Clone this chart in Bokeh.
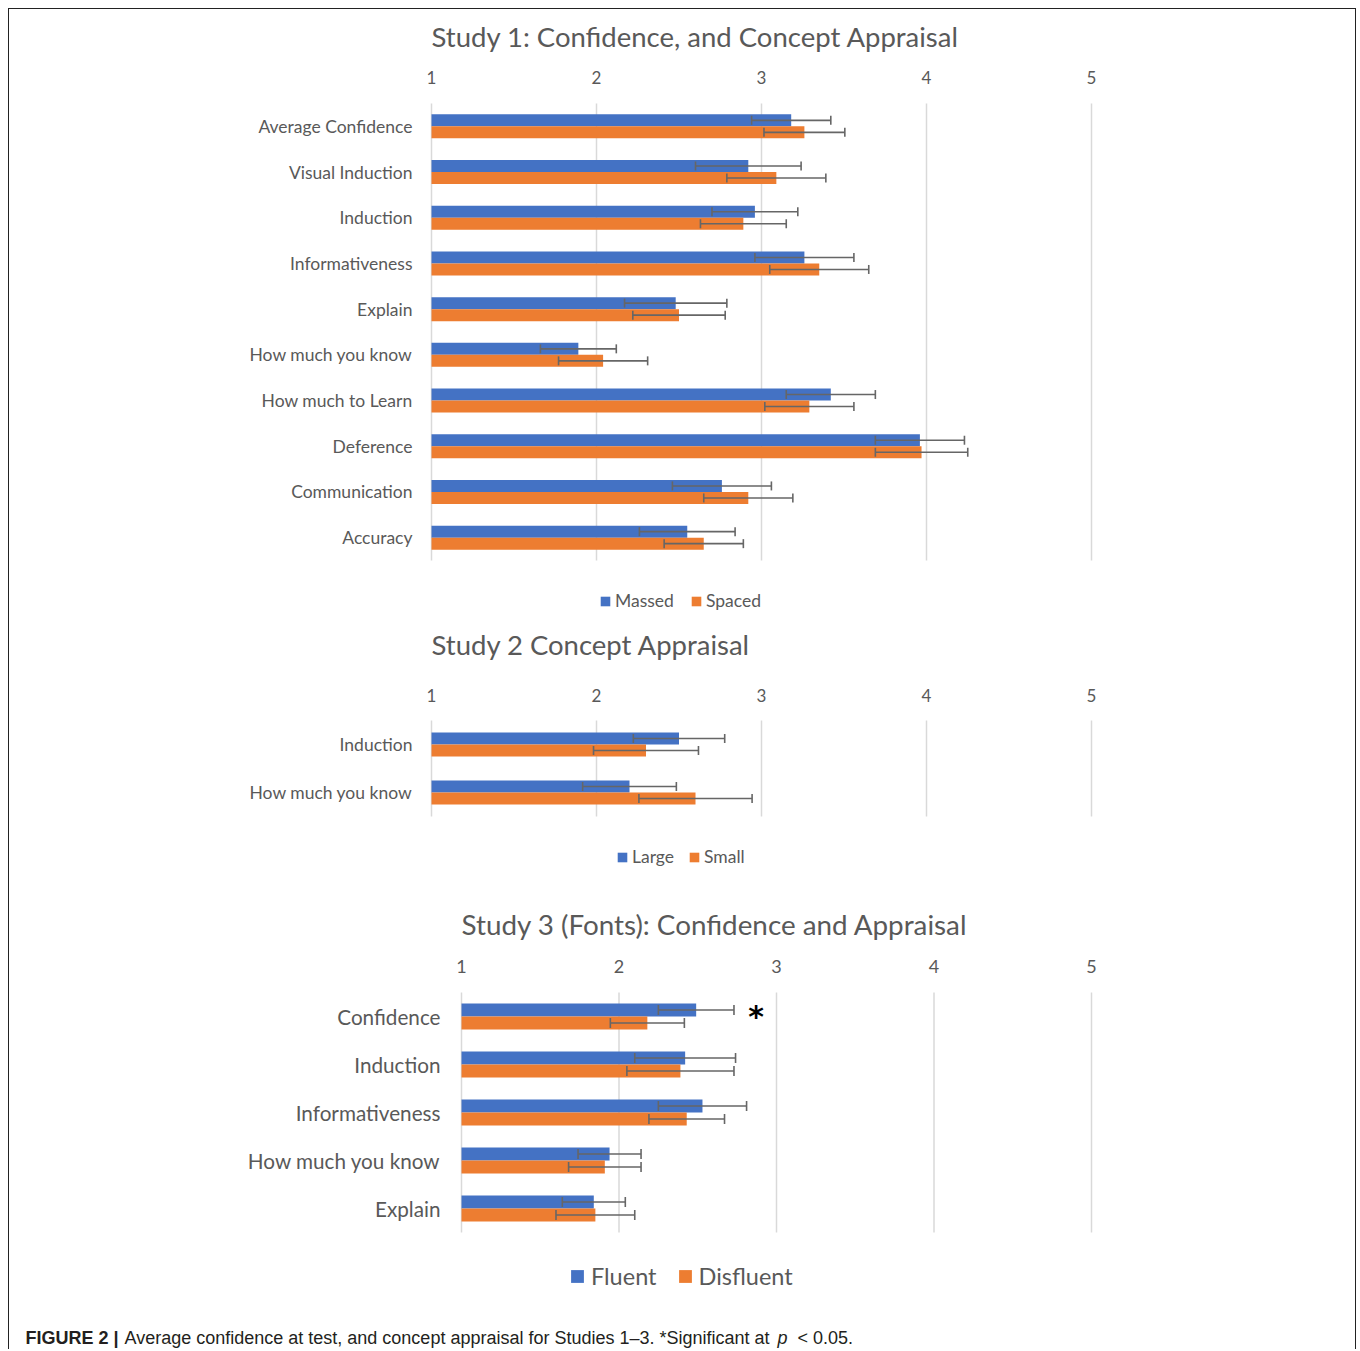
from bokeh.plotting import figure
from bokeh.models import (ColumnDataSource, Whisker, TeeHead, Label, Legend, LegendItem,
                          Range1d)
from bokeh.transform import dodge
from bokeh.layouts import column
from bokeh.core.properties import value
from bokeh.embed import file_html
from bokeh.resources import INLINE

# ---------------- data ----------------
s1_cats = ["Average Confidence", "Visual Induction", "Induction", "Informativeness", "Explain",
           "How much you know", "How much to Learn", "Deference", "Communication", "Accuracy"]
s1_massed = [3.18, 2.92, 2.96, 3.26, 2.48, 1.89, 3.42, 3.96, 2.76, 2.55]
s1_massed_err = [0.24, 0.32, 0.26, 0.30, 0.31, 0.23, 0.27, 0.27, 0.30, 0.29]
s1_spaced = [3.26, 3.09, 2.89, 3.35, 2.50, 2.04, 3.29, 3.97, 2.92, 2.65]
s1_spaced_err = [0.245, 0.30, 0.26, 0.30, 0.28, 0.27, 0.27, 0.28, 0.27, 0.24]

s2_cats = ["Induction", "How much you know"]
s2_large = [2.50, 2.20]
s2_large_err = [0.277, 0.284]
s2_small = [2.30, 2.60]
s2_small_err = [0.318, 0.343]

s3_cats = ["Confidence", "Induction", "Informativeness", "How much you know", "Explain"]
s3_fluent = [2.49, 2.42, 2.53, 1.94, 1.84]
s3_fluent_err = [0.24, 0.32, 0.28, 0.20, 0.20]
s3_disfluent = [2.18, 2.39, 2.43, 1.91, 1.85]
s3_disfluent_err = [0.235, 0.34, 0.24, 0.23, 0.25]

x_ticks = [1, 2, 3, 4, 5]

BLUE = "#4472C4"
ORANGE = "#ED7D31"
TXT = "#595959"
ERR = "#666666"
GRID = "#D9D9D9"
FONT = "Lato"
W, H = 1346, 1340          # canvas; page = local + 9


def x_range_for(origin_px, px_per_unit):
    start = x_ticks[0] - origin_px / px_per_unit
    return Range1d(start, start + W / px_per_unit)


def y_range_for(band_top, row_h):
    # row index i is centred at band_top + (i + 0.5) * row_h pixels from the top
    return Range1d((H - band_top) / row_h - 0.5, -band_top / row_h - 0.5)


p = figure(width=W, height=H, x_range=x_range_for(422, 165), y_range=y_range_for(94, 45.7),
           x_axis_location=None, y_axis_location=None, toolbar_location=None,
           output_backend="svg", min_border_left=0, min_border_right=0,
           min_border_top=0, min_border_bottom=0)
p.extra_x_ranges = {"x3": x_range_for(452, 157.5)}
p.extra_y_ranges = {"y2": y_range_for(711, 48), "y3": y_range_for(983, 48)}
p.outline_line_color = None
p.grid.visible = False
p.background_fill_color = None
p.border_fill_color = None


def study(cats, a, a_err, b, b_err, names, xr, yr, title, title_dy, tfs, cfs, afs, lfs,
          bar_h, head, tick_dy, cat_standoff, legend_loc, lglyph, lstandoff, lspacing):
    n = len(cats)
    kw = {}
    if xr != "default":
        kw["x_range_name"] = xr
    if yr != "default":
        kw["y_range_name"] = yr
    src = ColumnDataSource(dict(cat=cats, idx=list(range(n)), a=a, b=b,
                                a_lo=[v - e for v, e in zip(a, a_err)],
                                a_hi=[v + e for v, e in zip(a, a_err)],
                                b_lo=[v - e for v, e in zip(b, b_err)],
                                b_hi=[v + e for v, e in zip(b, b_err)],
                                origin=[x_ticks[0]] * n))
    # vertical gridlines at the value ticks
    gsrc = ColumnDataSource(dict(x=x_ticks, y0=[-0.5] * len(x_ticks), y1=[n - 0.5] * len(x_ticks),
                                 lab=[str(t) for t in x_ticks]))
    p.segment(x0="x", x1="x", y0="y0", y1="y1", source=gsrc, line_color=GRID,
              line_width=1.5, **kw)
    # value-axis tick labels along the top of each chart
    p.text(x="x", y="y0", text="lab", source=gsrc, y_offset=-tick_dy, text_align="center",
           text_baseline="middle", text_font=value(FONT), text_font_size=f"{afs}px",
           text_color=TXT, **kw)

    ra = p.hbar(y=dodge("idx", -bar_h / 2), left=x_ticks[0], right="a", height=bar_h,
                source=src, fill_color=BLUE, line_color=None, **kw)
    rb = p.hbar(y=dodge("idx", bar_h / 2), left=x_ticks[0], right="b", height=bar_h,
                source=src, fill_color=ORANGE, line_color=None, **kw)
    for key, off in (("a", -bar_h / 2), ("b", bar_h / 2)):
        w = Whisker(source=src, base=dodge("idx", off), lower=key + "_lo", upper=key + "_hi",
                    dimension="width", line_color=ERR, line_width=1.6, level="overlay",
                    upper_head=TeeHead(size=head, line_color=ERR, line_width=1.6),
                    lower_head=TeeHead(size=head, line_color=ERR, line_width=1.6), **kw)
        p.add_layout(w)

    # category labels
    p.text(x="origin", y="idx", text="cat", source=src, x_offset=-cat_standoff,
           text_align="right", text_baseline="middle", text_font=value(FONT),
           text_font_size=f"{cfs}px", text_color=TXT, **kw)
    # chart title, left-aligned with the value-axis origin
    p.text(x=[x_ticks[0]], y=[-0.5], text=[title], y_offset=-title_dy, text_align="left",
           text_baseline="middle", text_font=value(FONT), text_font_size=f"{tfs}px",
           text_color=TXT, **kw)

    leg = Legend(items=[LegendItem(label=names[0], renderers=[ra]),
                        LegendItem(label=names[1], renderers=[rb])],
                 orientation="horizontal", location=legend_loc,
                 glyph_width=lglyph, glyph_height=lglyph, label_standoff=lstandoff,
                 spacing=lspacing, padding=0, margin=0,
                 border_line_color=None, background_fill_alpha=0,
                 label_text_font=FONT, label_text_font_size=f"{lfs}px",
                 label_text_color=TXT, label_height=lglyph, label_text_baseline="middle")
    p.add_layout(leg, "center")
    return src


study(s1_cats, s1_massed, s1_massed_err, s1_spaced, s1_spaced_err, ["Massed", "Spaced"],
      "default", "default", "Study 1: Confidence, and Concept Appraisal", 67,
      tfs=27.5, cfs=17.5, afs=17, lfs=17.5, bar_h=0.263, head=9, tick_dy=26,
      cat_standoff=19, legend_loc=(590, 748 - 10), lglyph=12, lstandoff=4, lspacing=16)

study(s2_cats, s2_large, s2_large_err, s2_small, s2_small_err, ["Large", "Small"],
      "default", "y2", "Study 2 Concept Appraisal", 76,
      tfs=27.5, cfs=17.5, afs=17, lfs=17.5, bar_h=0.25, head=9, tick_dy=25,
      cat_standoff=19, legend_loc=(607, 492 - 10), lglyph=12, lstandoff=4, lspacing=14)

study(s3_cats, s3_fluent, s3_fluent_err, s3_disfluent, s3_disfluent_err,
      ["Fluent", "Disfluent"], "x3", "y3", "Study 3 (Fonts): Confidence and Appraisal", 68,
      tfs=27.8, cfs=20.7, afs=18, lfs=23.5, bar_h=0.27, head=10, tick_dy=26,
      cat_standoff=21, legend_loc=(560, 72 - 13), lglyph=16, lstandoff=6, lspacing=20)

# significance asterisk next to the Confidence / Fluent error bar
p.text(x=[s3_fluent[0] + s3_fluent_err[0]], y=[0], text=["*"], x_offset=22, y_offset=0,
       text_align="center", text_baseline="middle", text_font=value("DejaVu Sans"),
       text_font_style="bold", text_font_size="30px", text_color="black",
       x_range_name="x3", y_range_name="y3")

# caption
cap_y = H - (1337 - 9)
CAP = "Liberation Sans"
CAPC = "#231F20"
for txt, x, style in (("FIGURE 2 |", 25, "bold"),
                      ("Average confidence at test, and concept appraisal for Studies 1\u20133. *Significant at", 124, "normal"),
                      ("p", 777, "italic"),
                      ("< 0.05.", 797, "normal")):
    p.add_layout(Label(x=x - 9, y=cap_y, x_units="screen", y_units="screen", text=txt,
                       text_font=CAP, text_font_style=style, text_font_size="18px",
                       text_color=CAPC, text_baseline="middle"))

layout = column(p, spacing=0,
                styles={"margin-left": "8px", "margin-top": "8px",
                        "border-top": "1px solid #222", "border-left": "1px solid #222",
                        "border-right": "1px solid #222"})

open("out.html", "w").write(file_html(layout, INLINE))
